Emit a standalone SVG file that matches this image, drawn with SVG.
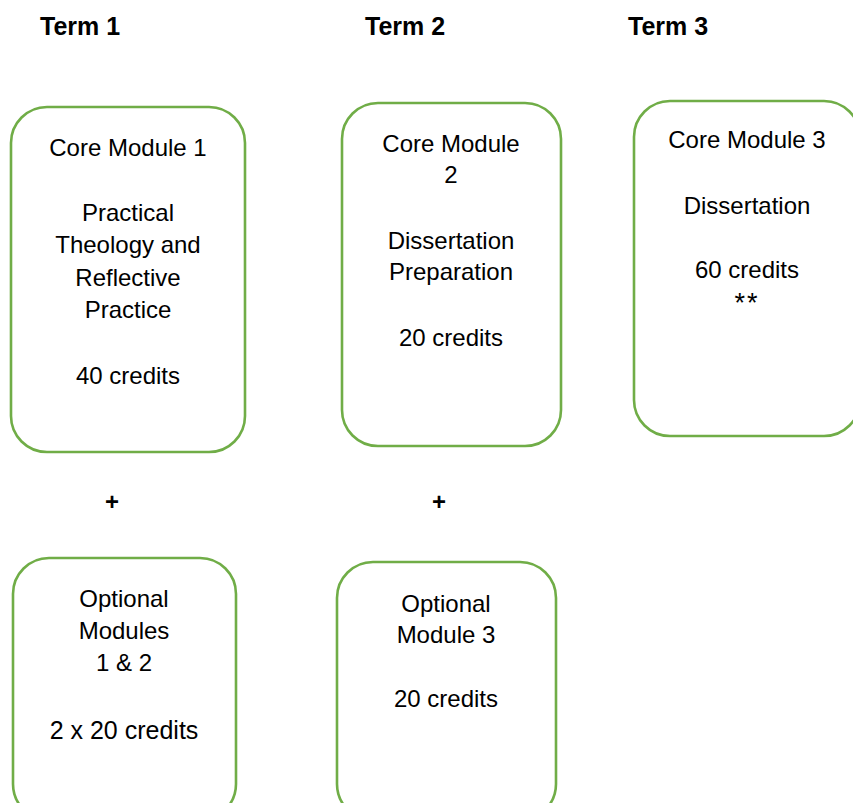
<svg xmlns="http://www.w3.org/2000/svg" width="853" height="803" viewBox="0 0 853 803">
<style>
.box{fill:#fff;stroke:#70AD47;stroke-width:2.6}
.t{font-family:"Liberation Sans",Arial,sans-serif;font-size:24px;fill:#000;text-anchor:middle}
.h{font-family:"Liberation Sans",Arial,sans-serif;font-size:25px;font-weight:bold;fill:#000}
.p{font-family:"Liberation Sans",Arial,sans-serif;font-size:24px;font-weight:bold;fill:#000;text-anchor:middle}
</style>
<rect width="853" height="803" fill="#fff"/>
<g id="headers">
<text class="h" x="40" y="35">Term 1</text>
<text class="h" x="365" y="35">Term 2</text>
<text class="h" x="628" y="35">Term 3</text>
</g>
<g id="core1">
<rect class="box" x="11" y="107" width="234" height="345" rx="36"/>
<text class="t" x="128" y="156">Core Module 1</text>
<text class="t" x="128" y="221">Practical</text>
<text class="t" x="128" y="253">Theology and</text>
<text class="t" x="128" y="286">Reflective</text>
<text class="t" x="128" y="318">Practice</text>
<text class="t" x="128" y="384">40 credits</text>
</g>
<g id="core2">
<rect class="box" x="342" y="103" width="219" height="343" rx="36"/>
<text class="t" x="451" y="152">Core Module</text>
<text class="t" x="451" y="183">2</text>
<text class="t" x="451" y="249">Dissertation</text>
<text class="t" x="451" y="280">Preparation</text>
<text class="t" x="451" y="346">20 credits</text>
</g>
<g id="core3">
<rect class="box" x="634" y="101" width="226" height="335" rx="36"/>
<text class="t" x="747" y="148">Core Module 3</text>
<text class="t" x="747" y="214">Dissertation</text>
<text class="t" x="747" y="278">60 credits</text>
<text class="t" x="747" y="312" style="font-size:27px;letter-spacing:2px">**</text>
</g>
<g id="opt12">
<rect class="box" x="13" y="558" width="223" height="262" rx="36"/>
<text class="t" x="124" y="607">Optional</text>
<text class="t" x="124" y="639">Modules</text>
<text class="t" x="124" y="671">1 &amp; 2</text>
<text class="t" x="124" y="739" style="font-size:25px">2 x 20 credits</text>
</g>
<g id="opt3">
<rect class="box" x="337" y="562" width="219" height="258" rx="36"/>
<text class="t" x="446" y="612">Optional</text>
<text class="t" x="446" y="643">Module 3</text>
<text class="t" x="446" y="707">20 credits</text>
</g>
<g id="connectors">
<text class="p" x="112" y="510">+</text>
<text class="p" x="439" y="510">+</text>
</g>
</svg>
